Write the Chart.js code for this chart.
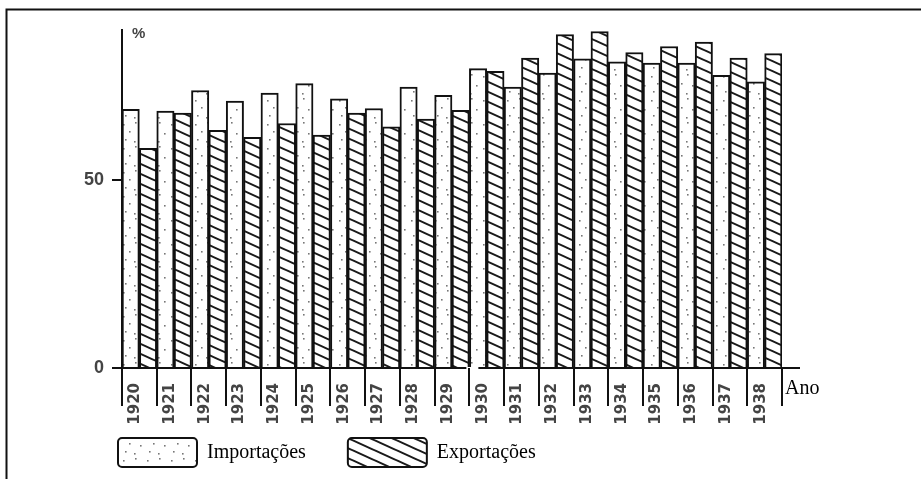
<!DOCTYPE html>
<html><head><meta charset="utf-8">
<script src="https://cdn.jsdelivr.net/npm/chart.js@4.4.1/dist/chart.umd.min.js"></script>
<style>html,body{margin:0;padding:0;background:#fff}canvas{display:block}</style>
</head><body>
<canvas id="c" width="921" height="479"></canvas>
<script>
const years = ['1920','1921','1922','1923','1924','1925','1926','1927','1928','1929','1930','1931','1932','1933','1934','1935','1936','1937','1938'];
const importacoes = [68.9, 68.4, 73.9, 71.1, 73.2, 75.7, 71.7, 69.1, 74.8, 72.6, 79.7, 74.8, 78.5, 82.3, 81.5, 81.2, 81.2, 77.9, 76.2];
const exportacoes = [58.5, 67.9, 63.3, 61.4, 65.1, 62.0, 67.9, 64.2, 66.3, 68.6, 79.0, 82.5, 88.8, 89.6, 84.0, 85.6, 86.8, 82.5, 83.7];
const yTicks = [0, 50];
const seriesNames = ['Importações', 'Exportações'];
const yAxisUnit = '%';
const xAxisName = 'Ano';

function dotPattern() {
  const c = document.createElement('canvas'); c.width = 24; c.height = 24;
  const g = c.getContext('2d');
  g.fillStyle = '#fff'; g.fillRect(0, 0, 24, 24);
  g.fillStyle = '#777';
  [[3,4],[15,2],[9,11],[20,13],[5,19],[14,21]].forEach(([px,py]) => g.fillRect(px, py, 1.6, 1.6));
  return g.createPattern(c, 'repeat');
}
function hatchPattern() {
  const w = 22, h = 10;
  const c = document.createElement('canvas'); c.width = w; c.height = h;
  const g = c.getContext('2d');
  g.fillStyle = '#fff'; g.fillRect(0, 0, w, h);
  g.strokeStyle = '#1a1a1a'; g.lineWidth = 2;
  for (let k = -1; k <= 1; k++) {
    g.beginPath(); g.moveTo(-w, -h + k * h); g.lineTo(2 * w, 2 * h + k * h); g.stroke();
  }
  return g.createPattern(c, 'repeat');
}

const decor = {
  id: 'decor',
  afterDraw(chart) {
    const {ctx, chartArea: a, scales: {x, y}} = chart;
    ctx.save();
    ctx.strokeStyle = '#111'; ctx.lineWidth = 2;
    ctx.beginPath(); ctx.moveTo(6.5, 479); ctx.lineTo(6.5, 9.5); ctx.lineTo(921, 9.5); ctx.stroke();
    const b = (x.getPixelForValue(9) + x.getPixelForValue(10)) / 2;
    const y0 = y.getPixelForValue(0);
    ctx.beginPath();
    ctx.moveTo(a.left, y0); ctx.lineTo(b - 3, y0);
    ctx.moveTo(b + 9, y0); ctx.lineTo(a.right + 18, y0);
    ctx.stroke();
    ctx.fillStyle = '#444'; ctx.font = 'bold 15px "Liberation Sans"';
    ctx.textBaseline = 'middle'; ctx.textAlign = 'left';
    ctx.fillText(yAxisUnit, a.left + 10, a.top + 4);
    ctx.fillStyle = '#000'; ctx.font = '20px "Liberation Serif"';
    ctx.fillText(xAxisName, a.right + 3, y0 + 21);
    ctx.restore();
  }
};

new Chart(document.getElementById('c'), {
  type: 'bar',
  data: {
    labels: years,
    datasets: [
      {label: seriesNames[0], data: importacoes, backgroundColor: dotPattern(), borderColor: '#111', borderWidth: 2},
      {label: seriesNames[1], data: exportacoes, backgroundColor: hatchPattern(), borderColor: '#111', borderWidth: 2}
    ]
  },
  options: {
    responsive: false, animation: false,
    layout: {padding: {left: 76, right: 139, top: 30, bottom: 2}},
    datasets: {bar: {categoryPercentage: 1, barPercentage: 1}},
    plugins: {
      legend: {position: 'bottom', align: 'start',
        labels: {boxWidth: 79, boxHeight: 29, padding: 42, color: '#000',
          font: {family: 'Liberation Serif', size: 20}, useBorderRadius: true, borderRadius: 4}},
      tooltip: {enabled: false}
    },
    scales: {
      x: {
        offset: true,
        grid: {offset: true, drawOnChartArea: false, drawTicks: true, tickLength: 38, color: '#111', lineWidth: 2},
        border: {display: false},
        ticks: {maxRotation: 90, minRotation: 90, mirror: true, padding: -15, labelOffset: 14, autoSkip: false, color: '#444',
          font: {family: 'DejaVu Sans', size: 15, weight: 'bold'}},
        afterFit(s) { s.height = 28; }
      },
      y: {
        min: 0, max: 90,
        afterBuildTicks(s) { s.ticks = yTicks.map(v => ({value: v})); },
        grid: {drawOnChartArea: false, tickLength: 10, color: '#111', lineWidth: 2},
        border: {color: '#111', width: 2},
        ticks: {padding: 8, color: '#444', font: {family: 'Liberation Sans', size: 18, weight: 'bold'}},
        afterFit(s) { s.width = 46; }
      }
    }
  },
  plugins: [decor]
});
</script>
</body></html>
